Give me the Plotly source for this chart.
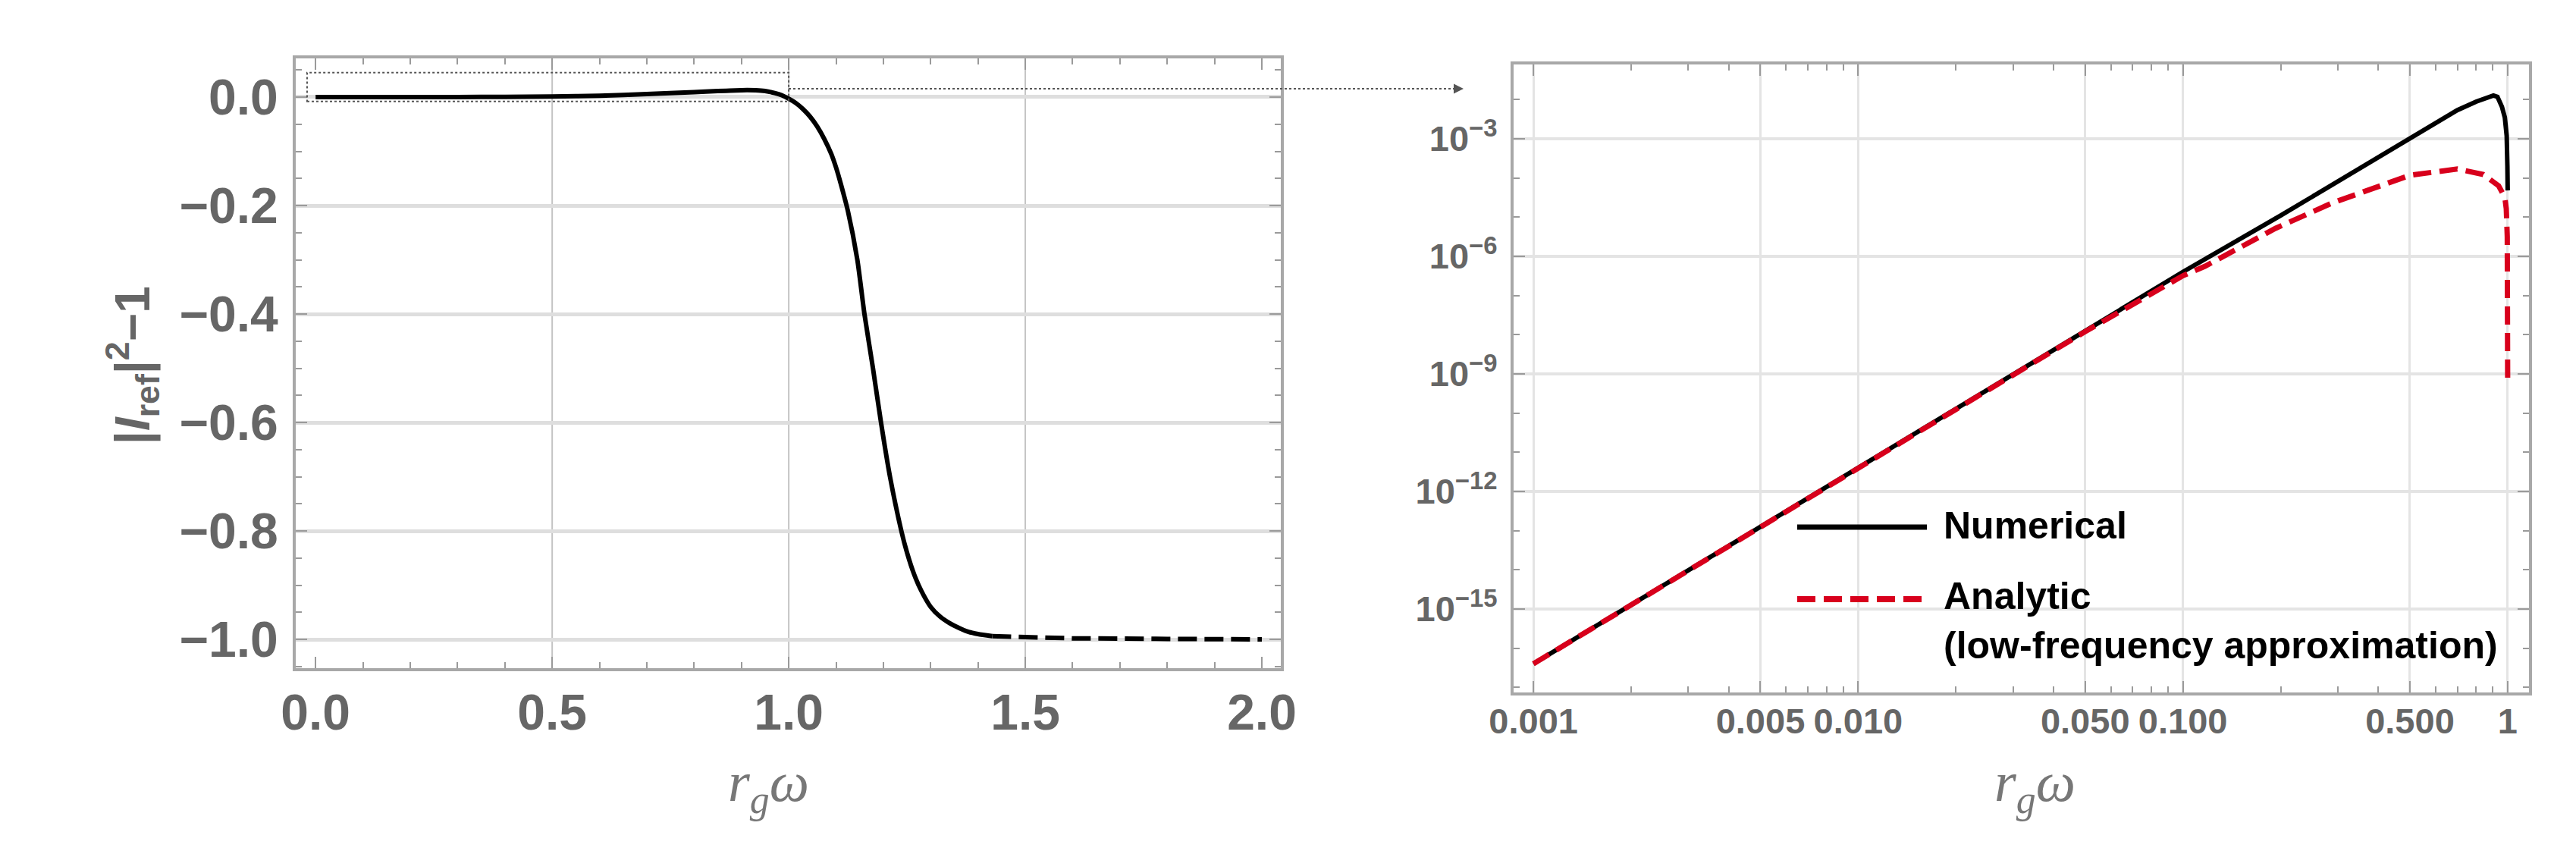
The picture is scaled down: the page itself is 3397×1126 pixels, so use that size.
import plotly.graph_objects as go

# ---------------- data ----------------
# Left panel: |r_ref|^2 - 1 versus r_g*omega (linear axes)
omega_left = [0.0, 0.1, 0.2, 0.3, 0.4, 0.5, 0.6, 0.7, 0.8, 0.85, 0.9, 0.93, 0.95, 0.97,
              0.985, 1.0, 1.015, 1.03, 1.045, 1.06, 1.075, 1.09, 1.10, 1.11, 1.125, 1.145,
              1.16, 1.178, 1.195, 1.214, 1.238, 1.25, 1.265, 1.28, 1.30, 1.32, 1.34, 1.36,
              1.38, 1.40, 1.43]
refl_left = [0.0, 0.0, 0.0, 0.0001, 0.0004, 0.0011, 0.0026, 0.0055, 0.0092, 0.0112, 0.0127,
             0.0125, 0.0112, 0.0075, 0.0035, -0.003, -0.011, -0.022, -0.036, -0.054, -0.077,
             -0.105, -0.13, -0.16, -0.21, -0.30, -0.40, -0.50, -0.60, -0.70, -0.80, -0.84,
             -0.88, -0.91, -0.94, -0.958, -0.97, -0.979, -0.986, -0.990, -0.994]
omega_tail = [1.43, 1.6, 1.8, 2.0]
refl_tail = [-0.994, -0.998, -0.999, -1.0]

# Right panel: log-log
omega_num = [0.001, 0.01, 0.1, 0.2, 0.5, 0.7, 0.8, 0.87, 0.904, 0.93, 0.944, 0.96, 0.98,
             0.993, 0.998, 1.0]
refl_num = [4.0e-17, 4.0e-12, 4.0e-7, 1.1e-5, 1.0e-3, 5.4e-3, 8.9e-3, 1.17e-2, 1.27e-2,
            1.18e-2, 9.5e-3, 6.6e-3, 3.5e-3, 1.2e-3, 2.0e-4, 4.8e-5]
omega_ana = [0.001, 0.01, 0.05, 0.1, 0.117, 0.193, 0.288, 0.5, 0.7, 0.841, 0.938, 0.98,
             0.99, 0.997, 0.9995, 0.99995]
refl_ana = [4.0e-17, 4.0e-12, 1.2e-8, 3.2e-7, 5.6e-7, 5.2e-6, 2.3e-5, 1.17e-4, 1.7e-4,
            1.23e-4, 6.3e-5, 3.2e-5, 1.66e-5, 3.2e-6, 1.0e-7, 5.1e-10]

left_xticks = [0.0, 0.5, 1.0, 1.5, 2.0]
left_xticktext = ["0.0", "0.5", "1.0", "1.5", "2.0"]
left_xgrid = [0.5, 1.0, 1.5]
left_yticks = [0.0, -0.2, -0.4, -0.6, -0.8, -1.0]
left_yticktext = ["0.0", "\u22120.2", "\u22120.4", "\u22120.6", "\u22120.8", "\u22121.0"]

right_xticks = [0.001, 0.005, 0.01, 0.05, 0.1, 0.5, 1.0]
right_xticktext = ["0.001", "0.005", "0.010", "0.050", "0.100", "0.500", "1"]
right_yticks = [1e-3, 1e-6, 1e-9, 1e-12, 1e-15]
right_yticktext = ["10<sup>\u22123</sup>", "10<sup>\u22126</sup>", "10<sup>\u22129</sup>",
                   "10<sup>\u221212</sup>", "10<sup>\u221215</sup>"]
right_xminor = [m * 10.0 ** e for e in (-3, -2, -1) for m in range(2, 10)]
right_yminor = [10.0 ** e for e in range(-17, -1)]

# ---------------- styles ----------------
W, H = 3397, 1126
GRAY_TXT = "#666666"
FRAME = "#a8a8a8"
TICKC = "#9a9a9a"
RED = "#d8001c"
TICKFONT_L = dict(family="Liberation Sans, Arial, sans-serif", size=66, color=GRAY_TXT, weight="bold")
TICKFONT_R = dict(family="Liberation Sans, Arial, sans-serif", size=47, color=GRAY_TXT, weight="bold")


def px(xp):
    return xp / W


def py(yp):
    return 1 - yp / H


fig = go.Figure()

fig.add_trace(go.Scatter(x=omega_left, y=refl_left, mode="lines",
                         line=dict(color="black", width=6, shape="spline", smoothing=0.6),
                         xaxis="x", yaxis="y", showlegend=False))
fig.add_trace(go.Scatter(x=omega_tail, y=refl_tail, mode="lines",
                         line=dict(color="black", width=6, dash="25px,10px"),
                         xaxis="x", yaxis="y", showlegend=False))
fig.add_trace(go.Scatter(x=omega_num, y=refl_num, mode="lines", name="Numerical",
                         line=dict(color="black", width=6), xaxis="x2", yaxis="y2",
                         showlegend=False))
fig.add_trace(go.Scatter(x=omega_ana, y=refl_ana, mode="lines",
                         name="Analytic (low-frequency approximation)",
                         line=dict(color=RED, width=7, dash="24px,11px"),
                         xaxis="x2", yaxis="y2", showlegend=False))

common = dict(showline=True, linecolor=FRAME, linewidth=4, mirror="allticks",
              ticks="inside", ticklen=15, tickwidth=2, tickcolor=TICKC,
              zeroline=False, tickangle=0, automargin=False)

fig.update_layout(
    width=W, height=H,
    margin=dict(l=0, r=0, t=0, b=0, autoexpand=False),
    paper_bgcolor="white", plot_bgcolor="white",
    xaxis=dict(domain=[px(382), px(1681)], range=[-0.042, 2.040], anchor="y",
               tickmode="array", tickvals=left_xticks, ticktext=left_xticktext,
               tickfont=TICKFONT_L, ticklabelstandoff=-2, showgrid=False,
               minor=dict(tickmode="linear", tick0=0, dtick=0.1, ticks="inside",
                          ticklen=8, tickwidth=2, tickcolor=TICKC, showgrid=False),
               **common),
    yaxis=dict(domain=[py(873), py(69)], range=[-1.053, 0.0713], anchor="x",
               tickmode="array", tickvals=left_yticks, ticktext=left_yticktext,
               tickfont=TICKFONT_L, ticklabelstandoff=6,
               showgrid=True, gridcolor="#dedede", gridwidth=5,
               minor=dict(tickmode="linear", tick0=0, dtick=0.05, ticks="inside",
                          ticklen=8, tickwidth=2, tickcolor=TICKC, showgrid=False),
               **common),
    xaxis2=dict(type="log", domain=[px(1988), px(3327)], range=[-3.061, 0.0656],
                anchor="y2", tickmode="array", tickvals=right_xticks,
                ticktext=right_xticktext, tickfont=TICKFONT_R, ticklabelstandoff=-6,
                showgrid=True, gridcolor="#e4e4e4", gridwidth=3,
                minor=dict(tickmode="array", tickvals=right_xminor, ticks="inside",
                           ticklen=8, tickwidth=2, tickcolor=TICKC, showgrid=False),
                **common),
    yaxis2=dict(type="log", domain=[py(905), py(77)], range=[-17.13, -1.103],
                anchor="x2", tickmode="array", tickvals=right_yticks,
                ticktext=right_yticktext, tickfont=TICKFONT_R, ticklabelstandoff=8,
                showgrid=True, gridcolor="#e4e4e4", gridwidth=4,
                minor=dict(tickmode="array", tickvals=right_yminor, ticks="inside",
                           ticklen=8, tickwidth=2, tickcolor=TICKC, showgrid=False),
                **common),
)

# vertical grid lines of the left panel (only at interior major ticks)
for gx in left_xgrid:
    fig.add_shape(type="line", xref="x", yref="y domain", x0=gx, x1=gx, y0=0, y1=1,
                  line=dict(color="#c4c4c4", width=2), layer="below")

# ---------------- zoom box + arrow (decoration) ----------------
fig.add_shape(type="rect", xref="x", yref="y", x0=-0.018, x1=1.0, y0=-0.008, y1=0.045,
              line=dict(color="#555555", width=2, dash="dot"), layer="above")
fig.add_shape(type="line", xref="paper", yref="paper", x0=px(1032), x1=px(1912),
              y0=py(109), y1=py(109), line=dict(color="#555555", width=2, dash="dot"))
fig.add_annotation(xref="paper", yref="paper", x=px(1922), y=py(109), text="",
                   showarrow=True, ax=-12, ay=0, arrowhead=2, arrowsize=1.3,
                   arrowwidth=2, arrowcolor="#555555")

# ---------------- axis titles ----------------
title_txt = "<i>r</i><sub><i>g</i></sub><i>\u03c9</i>"
for xc in (1006, 2675):
    fig.add_annotation(xref="paper", yref="paper", x=px(xc), y=py(1028), text=title_txt,
                       showarrow=False, xanchor="center", yanchor="middle",
                       font=dict(family="Liberation Serif, Times New Roman, serif",
                                 size=74, color="#777777"))
fig.add_annotation(xref="paper", yref="paper", x=px(166), y=py(474),
                   text="|<i>I</i><sub>ref</sub>|<sup>2</sup>\u22121", textangle=-90,
                   showarrow=False, xanchor="center", yanchor="middle",
                   font=dict(family="Liberation Sans, Arial, sans-serif", size=64,
                             color=GRAY_TXT, weight="bold"))

# ---------------- legend (drawn manually) ----------------
fig.add_shape(type="line", xref="paper", yref="paper", x0=px(2362), x1=px(2533),
              y0=py(687), y1=py(687), line=dict(color="black", width=7))
fig.add_shape(type="line", xref="paper", yref="paper", x0=px(2362), x1=px(2530),
              y0=py(782), y1=py(782), line=dict(color=RED, width=8, dash="24px,11px"))
LEGFONT = dict(family="Liberation Sans, Arial, sans-serif", size=50, color="black",
               weight="bold")
fig.add_annotation(xref="paper", yref="paper", x=px(2553), y=py(685), text="Numerical",
                   showarrow=False, xanchor="left", yanchor="middle", font=LEGFONT)
fig.add_annotation(xref="paper", yref="paper", x=px(2553), y=py(748),
                   text="Analytic<br>(low-frequency approximation)", align="left",
                   showarrow=False, xanchor="left", yanchor="top", font=LEGFONT)

fig.write_html("out.html")
